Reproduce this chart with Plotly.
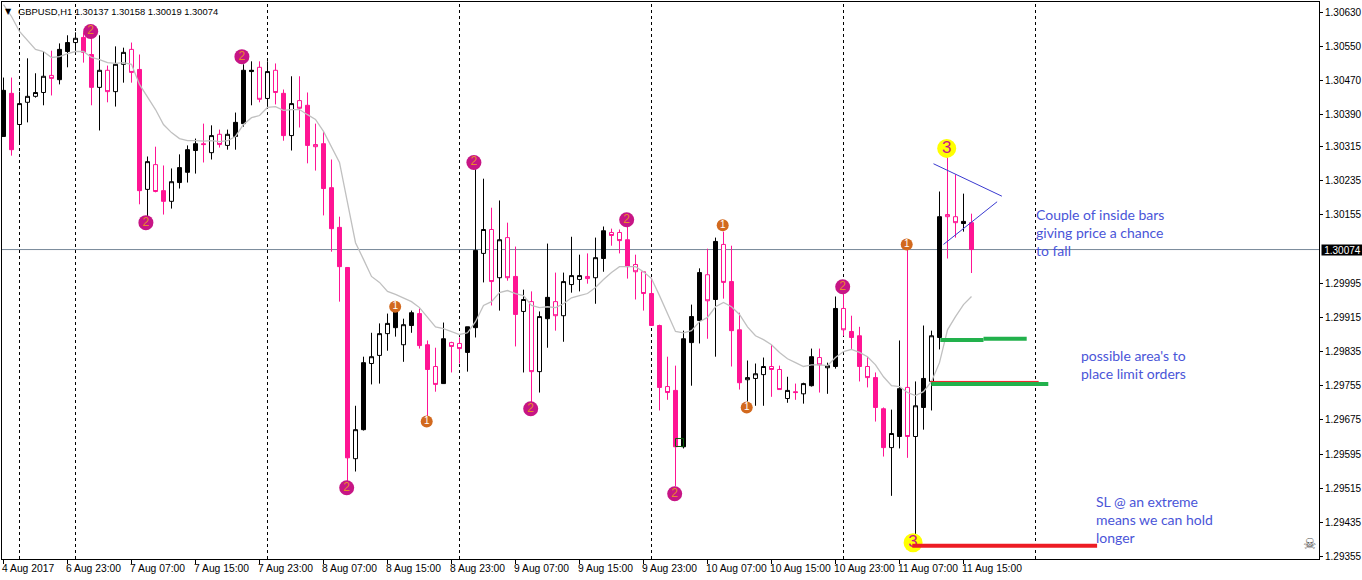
import numpy as np
import plotly.graph_objects as go

# Prices in points (1 point = 0.00001)
opens = [
 130339,130440,130367,130419,130433,130442,130482,130472,130538,130559,
 130571,130531,130454,130494,130444,130508,130543,130496,130215,130273,
 130212,130187,130231,130255,130306,130322,130301,130344,130318,130339,
 130369,130491,130501,130428,130494,130440,130341,130423,130412,130320,
 130322,130219,130126,130032,129584,129652,129807,129826,129877,129891,
 129851,129896,129924,129851,129800,129760,129856,129854,129833,129891,
 130065,130121,130008,130102,130011,129929,129952,129788,129912,129952,
 129919,129992,130004,130011,130008,130053,130114,130114,130097,130039,
 130022,129971,129896,129753,129744,129612,129856,129908,130015,129957,
 130086,129999,129886,129769,129772,129781,129800,129793,129725,129741,
 129736,129755,129821,129797,129800,129936,129882,129872,129800,129774,
 129701,129610,129636,129751,129636,129704,129765,129868,130156,130151,
 130135,130137]
highs = [
 130477,130477,130444,130522,130487,130538,130540,130557,130576,130583,
 130583,130573,130576,130505,130550,130547,130559,130531,130292,130315,
 130271,130264,130297,130318,130334,130369,130365,130355,130355,130395,
 130508,130515,130515,130515,130510,130449,130480,130480,130442,130369,
 130351,130285,130151,130032,129708,129823,129879,129901,129924,129945,
 129912,129931,129936,129861,129844,129903,129858,129868,129893,130262,
 130240,130172,130189,130137,130081,129980,129976,129929,130088,130020,
 130020,130104,130062,130065,130102,130128,130123,130121,130128,130062,
 130022,130008,129898,129823,129802,129884,129945,130030,130076,130102,
 130116,130083,129926,129814,129807,129821,129851,129802,129776,129760,
 129762,129842,129842,129809,129964,129992,129919,129893,129823,129786,
 129704,129699,129861,130074,129765,129896,129884,130210,130290,130250,
 130205,130158]
lows = [
 130339,130294,130325,130372,130430,130412,130435,130461,130501,130538,
 130512,130412,130353,130419,130409,130465,130465,130180,130151,130208,
 130156,130170,130217,130231,130252,130278,130285,130313,130308,130308,
 130362,130412,130419,130409,130414,130329,130306,130360,130276,130259,
 130154,130069,129952,129528,129554,129650,129758,129760,129837,129870,
 129811,129879,129842,129683,129741,129760,129786,129807,129788,129868,
 129997,129943,129931,130001,129847,129786,129715,129739,129844,129884,
 129858,129973,129976,129994,129947,130022,130083,130065,130006,129957,
 129931,129896,129697,129722,129519,129608,129755,129854,129865,129823,
 129959,129800,129746,129718,129708,129708,129729,129746,129715,129722,
 129713,129753,129739,129736,129795,129872,129840,129765,129751,129671,
 129589,129497,129608,129586,129406,129652,129697,129840,130053,130102,
 130116,130019]
closes = [
 130447,130308,130416,130433,130442,130480,130475,130543,130559,130569,
 130536,130454,130494,130444,130508,130536,130489,130212,130280,130210,
 130187,130233,130266,130308,130322,130320,130341,130320,130344,130372,
 130494,130494,130426,130491,130442,130341,130416,130405,130318,130315,
 130217,130123,130034,129586,129652,129809,129823,129877,129901,129929,
 129898,129926,129849,129793,129758,129865,129847,129842,129893,130072,
 130121,129999,130097,130008,129922,129957,129788,129917,129962,129919,
 129999,130013,130013,130006,130055,130118,130107,130095,130034,130022,
 129971,129896,129751,129739,129612,129865,129917,130020,129954,130093,
 129997,129884,129762,129774,129783,129800,129793,129746,129744,129739,
 129760,129823,129804,129802,129936,129886,129868,129800,129774,129704,
 129610,129643,129748,129636,129708,129772,129872,130151,130151,130137,
 130140,130074]
solid_body = [
 1,1,0,0,0,0,0,1,1,0, 1,1,0,0,0,0,0,1,0,0, 1,0,1,1,1,0,0,0,0,1,
 1,1,0,0,0,1,0,0,1,0, 1,1,1,1,0,1,0,0,0,1, 0,1,1,1,0,1,0,0,1,1,
 0,0,0,0,1,0,0,0,1,0, 0,0,0,0,0,1,0,0,1,0, 0,1,1,0,1,1,1,1,0,1,
 0,1,1,0,0,0,0,0,0,0, 0,1,0,0,1,0,1,1,0,1, 1,0,1,0,0,1,0,1,0,0,
 1,1]
moving_average = [
 130648,130620,130585,130564,130543,130538,130524,130526,130533,130538,
 130538,130524,130519,130512,130510,130512,130508,130461,130433,130402,
 130367,130348,130334,130329,130329,130328,130329,130327,130329,130339,
 130367,130383,130388,130407,130409,130400,130402,130402,130390,130379,
 130351,130313,130278,130184,130090,130051,130011,129997,129976,129969,
 129961,129952,129938,129915,129893,129889,129882,129875,129879,129905,
 129943,129952,129973,129978,129971,129966,129943,129938,129940,129938,
 129947,129961,129966,129971,129985,130004,130020,130034,130034,130034,
 130022,130006,129966,129922,129882,129879,129884,129905,129915,129940,
 129950,129940,129922,129893,129872,129863,129851,129833,129818,129809,
 129800,129804,129804,129802,129821,129835,129840,129833,129823,129804,
 129776,129755,129753,129739,129732,129741,129765,129809,129886,129917,
 129945,129964]

price_ticks = [130630,130550,130470,130390,130315,130235,130155,129995,129915,129835,129755,129675,129595,129515,129435,129355]
time_tick_bars = [0,8,16,24,32,40,48,56,64,72,80,88,96,104,112,120]
time_tick_labels = ["4 Aug 2017","6 Aug 23:00","7 Aug 07:00","7 Aug 15:00","7 Aug 23:00","8 Aug 07:00",
                    "8 Aug 15:00","8 Aug 23:00","9 Aug 07:00","9 Aug 15:00","9 Aug 23:00","10 Aug 07:00",
                    "10 Aug 15:00","10 Aug 23:00","11 Aug 07:00","11 Aug 15:00"]
day_separators = [2,9,33,57,81,105,129]
last_price = 130074

wave2_bars = [10.9,17.8,29.8,42.9,58.8,65.9,77.9,83.9,104.9]
wave2_prices = [130585,130137,130526,129516,130278,129701,130144,129502,129987]
wave1_bars = [48.96,52.9,89.9,92.9,112.9]
wave1_prices = [129940,129671,130131,129704,130086]
wave3_bars = [117.9,113.7]
wave3_prices = [130311,129387]

P = 1e-5
PINK = "#ff1493"
x_all = np.arange(len(opens))
def arr(v, mask):
    return (np.array(v, dtype=float) * P)[mask]

fig = go.Figure()
solid = np.array(solid_body, dtype=bool)
for mask, hollow in ((solid, False), (~solid, True)):
    fig.add_trace(go.Candlestick(
        x=x_all[mask], open=arr(opens, mask), high=arr(highs, mask), low=arr(lows, mask), close=arr(closes, mask),
        whiskerwidth=0,
        increasing=dict(line=dict(color="#000000", width=1), fillcolor="#ffffff" if hollow else "#000000"),
        decreasing=dict(line=dict(color=PINK, width=1), fillcolor="#ffffff" if hollow else PINK),
        showlegend=False, hoverinfo="skip"))

fig.add_trace(go.Scatter(x=x_all, y=np.array(moving_average) * P, mode="lines",
                         line=dict(color="#c0c0c0", width=1.3), showlegend=False, hoverinfo="skip"))

def seg(bars, prices, color, width):
    fig.add_trace(go.Scatter(x=bars, y=np.array(prices) * P, mode="lines",
                             line=dict(color=color, width=width), showlegend=False, hoverinfo="skip"))

seg([116.25,124.8],[130275,130199],"#3a3ad0",1)
seg([117.5,124.2],[130086,130186],"#3a3ad0",1)
seg([115.85,129.4],[129765,129765],"#ed1c24",1)
seg([117.1,122.5],[129862,129862],"#22b14c",4)
seg([122.5,127.9],[129865,129865],"#22b14c",4)
seg([115.97,130.6],[129759,129759],"#22b14c",4)

def badge(bars, prices, label, size, color, tcolor, fsize):
    fig.add_trace(go.Scatter(x=bars, y=np.array(prices) * P, mode="markers+text",
                             marker=dict(size=size, color=color, line=dict(width=0)),
                             text=[label] * len(bars), textposition="middle center",
                             textfont=dict(family="Liberation Sans", size=fsize, color=tcolor),
                             showlegend=False, hoverinfo="skip"))

badge(wave2_bars, wave2_prices, "2", 15, "#c71585", "#e8892b", 12)
badge(wave1_bars, wave1_prices, "1", 12, "#d2691e", "#ffffff", 10)
badge(wave3_bars, wave3_prices, "3", 19, "#ffff00", "#c71585", 17)
seg([113.6,136.7],[129380,129380],"#ed1c24",4)

fig.add_trace(go.Scatter(x=[84.5], y=[129622 * P], mode="markers",
                         marker=dict(symbol="square-open", size=8, color="#0a5c0a", line=dict(width=1, color="#0a5c0a")),
                         showlegend=False, hoverinfo="skip"))

for b in day_separators:
    fig.add_shape(type="line", xref="x", yref="paper", x0=b, x1=b, y0=0, y1=1, layer="below",
                  line=dict(color="#000000", width=1, dash="3px,3px"))
fig.add_shape(type="line", xref="paper", yref="y", x0=0, x1=1, y0=last_price * P, y1=last_price * P, layer="below",
              line=dict(color="#778899", width=1))

TXT = "#4a55d8"
def note(bar, price, text):
    fig.add_annotation(x=bar, y=price * P, xref="x", yref="y", text=text, showarrow=False, align="left",
                       xanchor="left", yanchor="middle", font=dict(family="Lato", size=14, color=TXT))
note(128.75, 130114, "Couple of inside bars<br>giving price a chance<br>to fall")
note(134.4, 129804, "possible area's to<br>place limit orders")
note(136.25, 129442, "SL @ an extreme<br>means we can hold<br>longer")

fig.add_annotation(xref="paper", yref="paper", x=0, y=1, xshift=14, yshift=-2, xanchor="left", yanchor="top", showarrow=False,
                   text="GBPUSD,H1 1.30137 1.30158 1.30019 1.30074",
                   font=dict(family="Liberation Sans", size=9.4, color="#000000"))
fig.add_annotation(xref="paper", yref="paper", x=0, y=1, xshift=1, yshift=-3, xanchor="left", yanchor="top", showarrow=False,
                   text="▼", font=dict(family="DejaVu Sans", size=8, color="#000000"))
fig.add_annotation(xref="paper", yref="y", x=1, y=last_price * P, xanchor="left", yanchor="middle", xshift=2, showarrow=False,
                   text="1.30074", bgcolor="#000000", borderpad=0, width=41, height=10, align="center",
                   font=dict(family="Liberation Sans", size=10, color="#ffffff"))
fig.add_annotation(xref="paper", yref="paper", x=0.999, y=0.007, showarrow=False, text="☠",
                   font=dict(family="DejaVu Sans", size=15, color="#555555"))

for b, label in zip(time_tick_bars, time_tick_labels):
    fig.add_annotation(x=b, xref="x", y=0, yref="paper", yanchor="top", xanchor="left", yshift=-2, xshift=-4,
                       showarrow=False, text=label, font=dict(family="Liberation Sans", size=10.3, color="#000000"))

fig.update_layout(
    width=1362, height=580, margin=dict(l=2, r=43, t=2, b=21),
    plot_bgcolor="#ffffff", paper_bgcolor="#ffffff", boxgap=0.5, boxgroupgap=0, boxmode="overlay", showlegend=False,
    xaxis=dict(range=[-0.1875, 164.4375], rangeslider=dict(visible=False), showgrid=False, zeroline=False,
               automargin=False, showline=True, mirror=True, linecolor="#000000", linewidth=1,
               tickmode="array", tickvals=time_tick_bars, showticklabels=False,
               ticks="outside", ticklen=4, tickcolor="#000000"),
    yaxis=dict(range=[1.29349, 1.30654], side="right", showgrid=False, zeroline=False,
               automargin=False, showline=True, mirror=True, linecolor="#000000", linewidth=1,
               tickmode="array", tickvals=[t * P for t in price_ticks], ticktext=[f"{t*P:.5f}" for t in price_ticks],
               ticks="outside", ticklen=3, tickcolor="#000000",
               tickfont=dict(family="Liberation Sans", size=10, color="#000000")),
)
fig.write_html("out.html", config=dict(displayModeBar=False), post_script="document.body.style.margin='0';")
